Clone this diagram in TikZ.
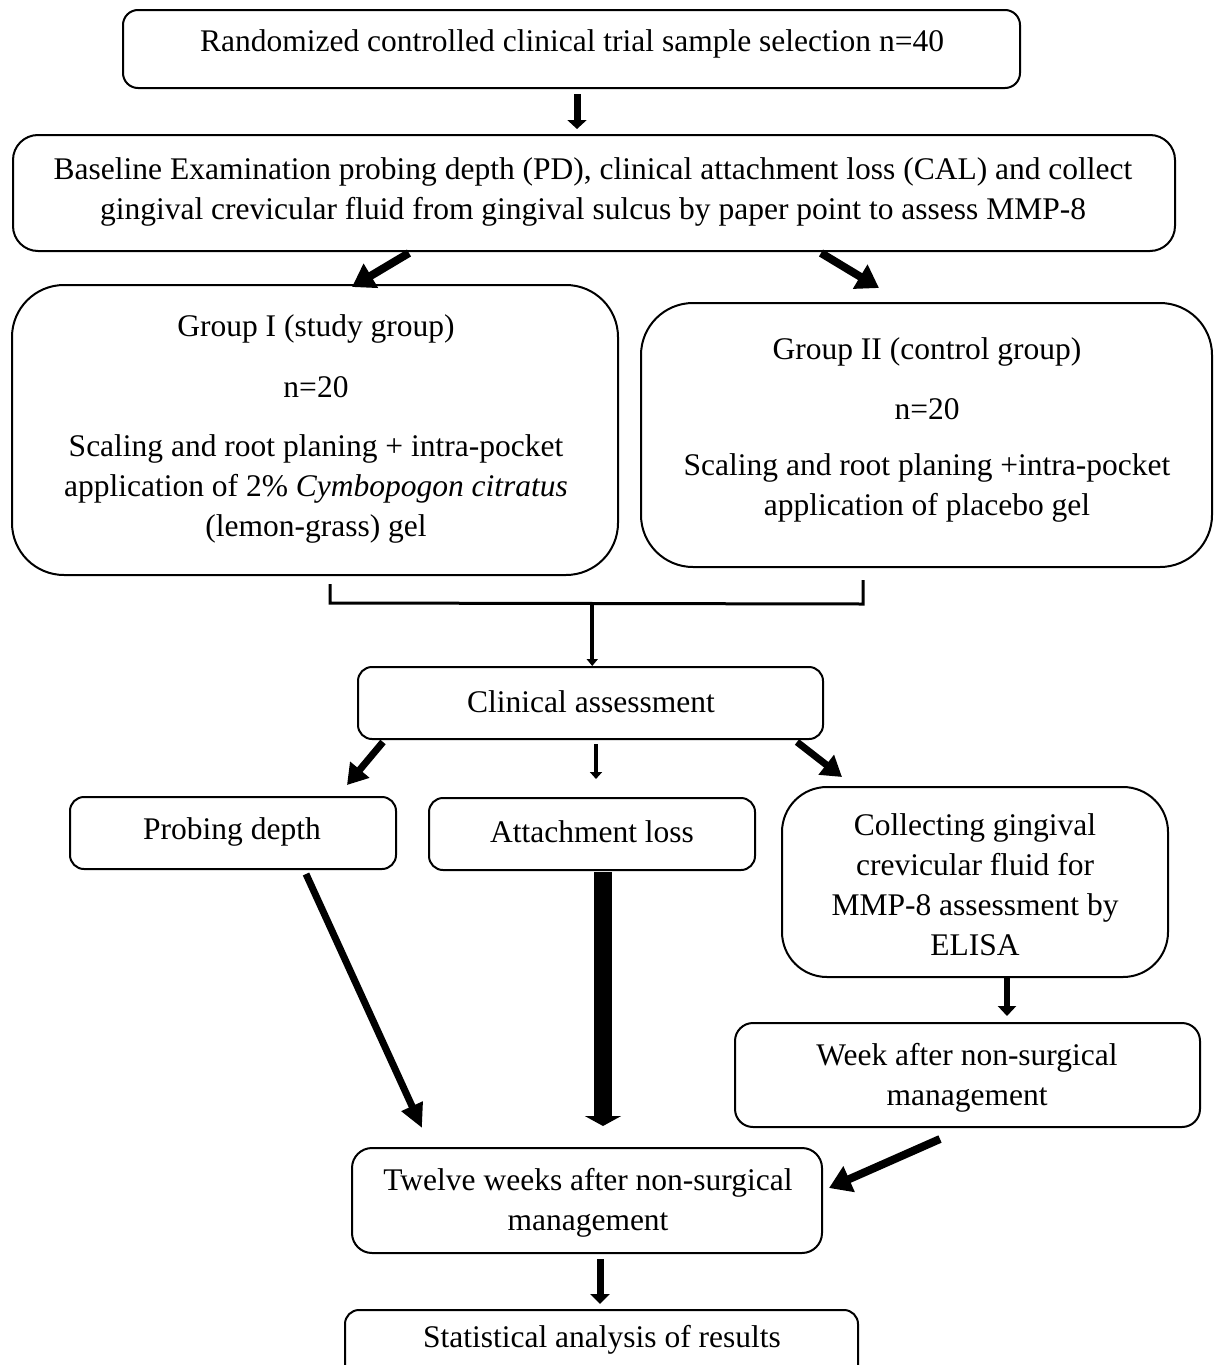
\documentclass[tikz,border=0pt]{standalone}
\usepackage{fontspec}
\setmainfont{Liberation Serif}
\usetikzlibrary{arrows.meta,calc}
\tikzset{
  box/.style={draw, line width=2pt, rounded corners=#1, inner sep=0pt},
  txt/.style={align=center, inner sep=0pt},
  arr/.style n args={3}{line width=#1pt, -{Triangle[length=#2pt,width=#3pt]}},
}
\begin{document}
\begin{tikzpicture}[x=1pt,y=-1pt,font=\fontsize{31.5}{40}\selectfont]
\useasboundingbox (0,0) rectangle (1215,1365);
% boxes
\node[box=15pt, minimum width=897pt, minimum height=78pt] (top) at (571.5,49) {};
\node[box=25pt, minimum width=1162pt, minimum height=116pt] (base) at (594,193) {};
\node[box=52pt, minimum width=606pt, minimum height=290pt] (g1) at (315,430) {};
\node[box=52pt, minimum width=571pt, minimum height=264pt] (g2) at (926.5,435) {};
\node[box=14pt, minimum width=465pt, minimum height=72pt] (clin) at (590.5,703) {};
\node[box=14pt, minimum width=326pt, minimum height=72pt] (pd) at (233,833) {};
\node[box=14pt, minimum width=326pt, minimum height=72pt] (al) at (592,834) {};
\node[box=45pt, minimum width=386pt, minimum height=190pt] (coll) at (975,882) {};
\node[box=18pt, minimum width=465pt, minimum height=104pt] (week) at (967.5,1075) {};
\node[box=20pt, minimum width=470pt, minimum height=105pt] (twelve) at (587,1200.5) {};
\node[box=14pt, minimum width=513pt, minimum height=70pt] (stat) at (601.5,1345) {};
% texts
\node[txt] (top-t) at (572,44) {Randomized controlled clinical trial sample selection n=40};
\node[txt] (base-t) at (593,192) {Baseline Examination probing depth (PD), clinical attachment loss (CAL) and collect\\gingival crevicular fluid from gingival sulcus by paper point to assess MMP-8};
\node[txt] (g1-t) at (316,429) {Group I (study group)\\[21pt]n=20\\[19pt]Scaling and root planing + intra-pocket\\application of 2\% \textit{Cymbopogon citratus}\\(lemon-grass) gel};
\node[txt] (g2-t) at (927,430) {Group II (control group)\\[20pt]n=20\\[16pt]Scaling and root planing +intra-pocket\\application of placebo gel};
\node[txt] (clin-t) at (591,702) {Clinical assessment};
\node[txt] (pd-t) at (232,832) {Probing depth};
\node[txt] (al-t) at (592,832) {Attachment loss};
\node[txt] (coll-t) at (975,885) {Collecting gingival\\crevicular fluid for\\MMP-8 assessment by\\ELISA};
\node[txt] (week-t) at (967,1078) {Week after non-surgical\\management};
\node[txt] (twelve-t) at (588,1203) {Twelve weeks after non-surgical\\management};
\node[txt] (stat-t) at (602,1340) {Statistical analysis of results};
% anchor points for vertical connectors
\coordinate (a1) at ($(top.south)+(5.5,5)$);
\coordinate (a5) at ($(clin.south)+(5.5,4)$);
\coordinate (a9) at ($(coll.south)+(32,0)$);
\coordinate (a11) at ($(twelve.south)+(13,5)$);
% connectors
\draw[arr={7}{9}{19}, shorten >=5pt] (a1) -- (a1 |- base.north);
\draw[arr={8}{22}{27}] ($(base.south)+(-185,1)$) -- ($(g1.north)+(37,3)$);
\draw[arr={8}{22}{27}] ($(base.south)+(227,1)$) -- ($(g2.north)+(-47.5,-14)$);
\draw[line width=3pt] ($(g1.south)+(15,8)$) coordinate (bl) -- (bl |- 0,603) coordinate (bm) -- ($(g2.south)+(-63.5,36)$) coordinate (br) -- ($(g2.south)+(-63.5,12)$);
\coordinate (bc) at ($(bm)!0.492!(br)$);
\draw[arr={3.5}{7}{11}] (bc) -- (bc |- clin.north);
\draw[arr={7}{20}{24}] ($(clin.south)+(-207.5,2)$) -- ($(pd.north)+(114,-11)$);
\draw[arr={4.5}{7}{12}, shorten >=18pt] (a5) -- (a5 |- al.north);
\draw[arr={7}{20}{24}] ($(clin.south)+(206.5,2)$) -- ($(coll.north)+(-133,-9)$);
\draw[arr={7}{24}{22}] ($(pd.south)+(73,4)$) -- ($(twelve.north)+(-165,-19)$);
\draw[arr={18}{10}{36}] ($(al.south)+(11,1)$) -- ($(twelve.north)+(16,-21)$);
\draw[arr={6}{10}{18}, shorten >=6pt] (a9) -- (a9 |- week.north);
\draw[arr={8}{22}{27}] ($(week.south)+(-27.5,11)$) -- ($(twelve.east)+(6,-12.5)$);
\draw[arr={7}{10}{19}, shorten >=5pt] (a11) -- (a11 |- stat.north);
\end{tikzpicture}
\end{document}
